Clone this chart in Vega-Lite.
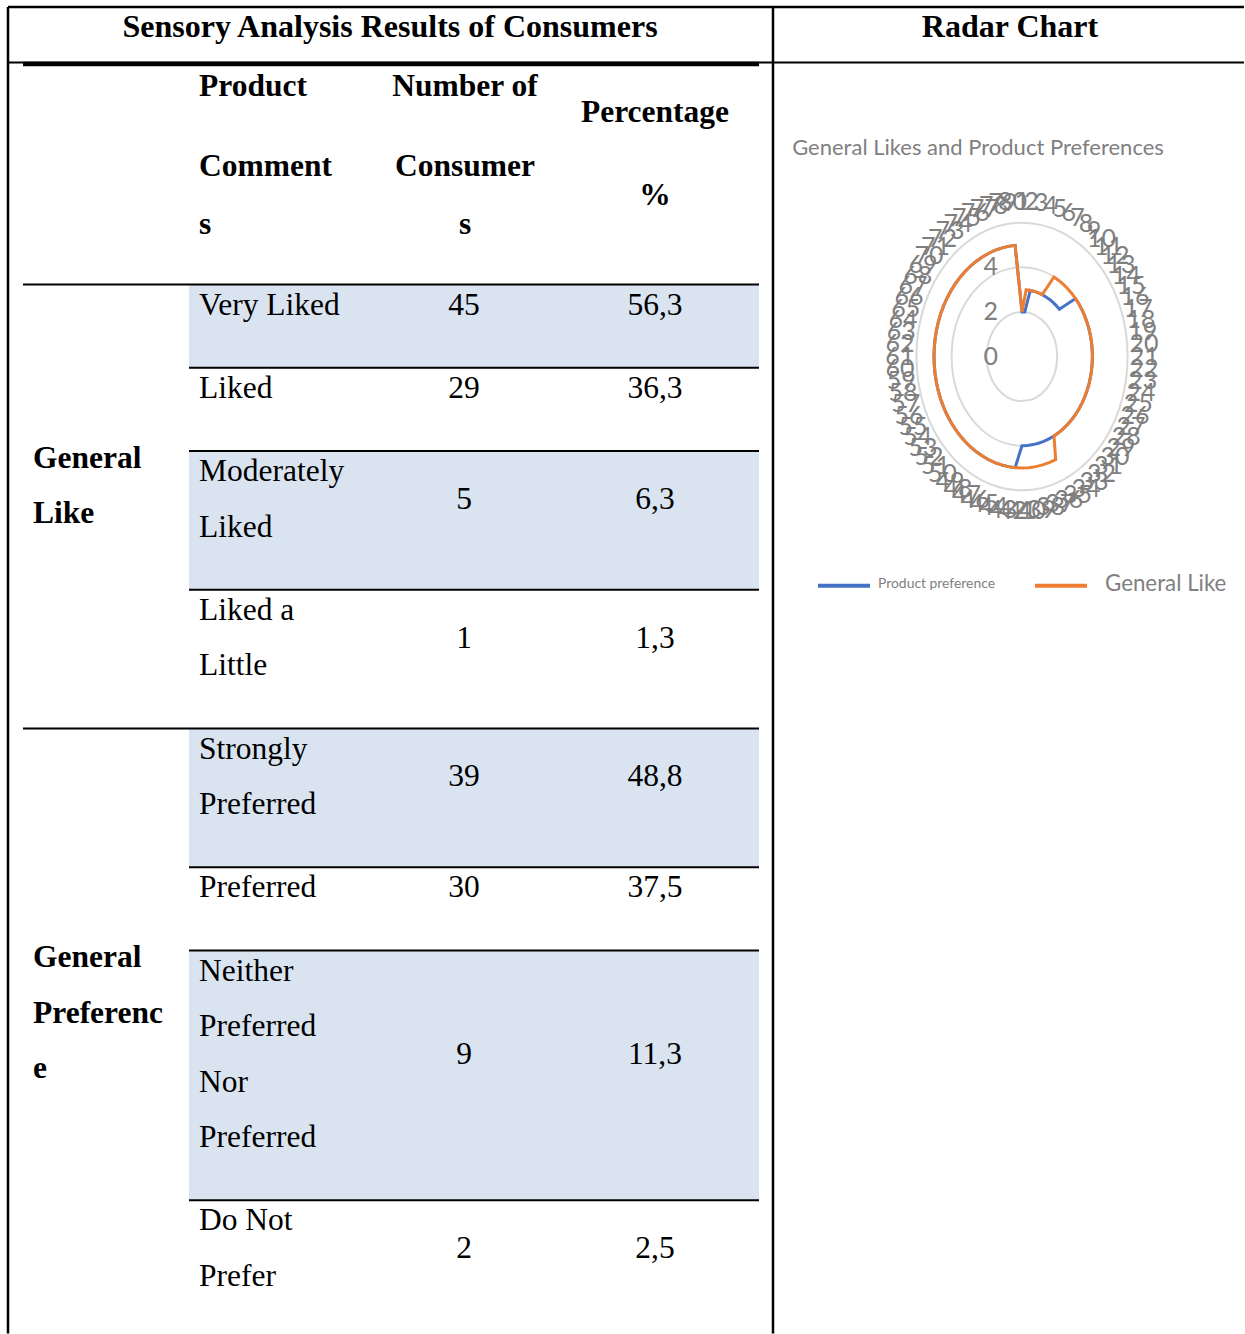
{
  "$schema": "https://vega.github.io/schema/vega-lite/v6.json",
  "width": 1245,
  "height": 1334,
  "autosize": {"type": "none"},
  "padding": 0,
  "background": "#ffffff",
  "config": {"view": {"stroke": null}},
  "datasets": {
    "table": [
      {"i": 1, "section": "General\nLike", "comment": "Very Liked", "n": 45, "pct": 56.3},
      {"i": 2, "section": "General\nLike", "comment": "Liked", "n": 29, "pct": 36.3},
      {"i": 3, "section": "General\nLike", "comment": "Moderately\nLiked", "n": 5, "pct": 6.3},
      {"i": 4, "section": "General\nLike", "comment": "Liked a\nLittle", "n": 1, "pct": 1.3},
      {"i": 5, "section": "General\nPreferenc\ne", "comment": "Strongly\nPreferred", "n": 39, "pct": 48.8},
      {"i": 6, "section": "General\nPreferenc\ne", "comment": "Preferred", "n": 30, "pct": 37.5},
      {"i": 7, "section": "General\nPreferenc\ne", "comment": "Neither\nPreferred\nNor\nPreferred", "n": 9, "pct": 11.3},
      {"i": 8, "section": "General\nPreferenc\ne", "comment": "Do Not\nPrefer", "n": 2, "pct": 2.5}
    ],
    "header": [
      {"col": "comment", "head": "Product", "rest": "Comment\ns"},
      {"col": "count", "head": "Number of", "rest": "Consumer\ns"},
      {"col": "pct", "head": "Percentage", "rest": "%"}
    ],
    "titles": [
      {"part": "table", "text": "Sensory Analysis Results of Consumers"},
      {"part": "radar", "text": "Radar Chart"}
    ],
    "chart": [{"title": "General Likes and Product Preferences"}],
    "legend": [
      {"series": "pref", "label": "Product preference"},
      {"series": "like", "label": "General Like"}
    ],
    "levels": [{"level": 0}, {"level": 2}, {"level": 4}, {"level": 6}],
    "radar": [
      {"c": 1, "like": 2, "pref": 2}, {"c": 2, "like": 3, "pref": 2}, {"c": 3, "like": 3, "pref": 3}, {"c": 4, "like": 3, "pref": 3},
      {"c": 5, "like": 3, "pref": 3}, {"c": 6, "like": 3, "pref": 3}, {"c": 7, "like": 4, "pref": 3}, {"c": 8, "like": 4, "pref": 3},
      {"c": 9, "like": 4, "pref": 3}, {"c": 10, "like": 4, "pref": 3}, {"c": 11, "like": 4, "pref": 3}, {"c": 12, "like": 4, "pref": 4},
      {"c": 13, "like": 4, "pref": 4}, {"c": 14, "like": 4, "pref": 4}, {"c": 15, "like": 4, "pref": 4}, {"c": 16, "like": 4, "pref": 4},
      {"c": 17, "like": 4, "pref": 4}, {"c": 18, "like": 4, "pref": 4}, {"c": 19, "like": 4, "pref": 4}, {"c": 20, "like": 4, "pref": 4},
      {"c": 21, "like": 4, "pref": 4}, {"c": 22, "like": 4, "pref": 4}, {"c": 23, "like": 4, "pref": 4}, {"c": 24, "like": 4, "pref": 4},
      {"c": 25, "like": 4, "pref": 4}, {"c": 26, "like": 4, "pref": 4}, {"c": 27, "like": 4, "pref": 4}, {"c": 28, "like": 4, "pref": 4},
      {"c": 29, "like": 4, "pref": 4}, {"c": 30, "like": 4, "pref": 4}, {"c": 31, "like": 4, "pref": 4}, {"c": 32, "like": 4, "pref": 4},
      {"c": 33, "like": 4, "pref": 4}, {"c": 34, "like": 4, "pref": 4}, {"c": 35, "like": 4, "pref": 4}, {"c": 36, "like": 5, "pref": 4},
      {"c": 37, "like": 5, "pref": 4}, {"c": 38, "like": 5, "pref": 4}, {"c": 39, "like": 5, "pref": 4}, {"c": 40, "like": 5, "pref": 4},
      {"c": 41, "like": 5, "pref": 4}, {"c": 42, "like": 5, "pref": 5}, {"c": 43, "like": 5, "pref": 5}, {"c": 44, "like": 5, "pref": 5},
      {"c": 45, "like": 5, "pref": 5}, {"c": 46, "like": 5, "pref": 5}, {"c": 47, "like": 5, "pref": 5}, {"c": 48, "like": 5, "pref": 5},
      {"c": 49, "like": 5, "pref": 5}, {"c": 50, "like": 5, "pref": 5}, {"c": 51, "like": 5, "pref": 5}, {"c": 52, "like": 5, "pref": 5},
      {"c": 53, "like": 5, "pref": 5}, {"c": 54, "like": 5, "pref": 5}, {"c": 55, "like": 5, "pref": 5}, {"c": 56, "like": 5, "pref": 5},
      {"c": 57, "like": 5, "pref": 5}, {"c": 58, "like": 5, "pref": 5}, {"c": 59, "like": 5, "pref": 5}, {"c": 60, "like": 5, "pref": 5},
      {"c": 61, "like": 5, "pref": 5}, {"c": 62, "like": 5, "pref": 5}, {"c": 63, "like": 5, "pref": 5}, {"c": 64, "like": 5, "pref": 5},
      {"c": 65, "like": 5, "pref": 5}, {"c": 66, "like": 5, "pref": 5}, {"c": 67, "like": 5, "pref": 5}, {"c": 68, "like": 5, "pref": 5},
      {"c": 69, "like": 5, "pref": 5}, {"c": 70, "like": 5, "pref": 5}, {"c": 71, "like": 5, "pref": 5}, {"c": 72, "like": 5, "pref": 5},
      {"c": 73, "like": 5, "pref": 5}, {"c": 74, "like": 5, "pref": 5}, {"c": 75, "like": 5, "pref": 5}, {"c": 76, "like": 5, "pref": 5},
      {"c": 77, "like": 5, "pref": 5}, {"c": 78, "like": 5, "pref": 5}, {"c": 79, "like": 5, "pref": 5}, {"c": 80, "like": 5, "pref": 5}
    ]
  },
  "layer": [
    {
      "layer": [
        {
          "data": {"values": [{}]},
          "mark": {"type": "rule", "color": "#000000", "strokeWidth": 2.5},
          "encoding": {
            "x": {"datum": 8, "type": "quantitative", "scale": {"domain": [0, 1245], "nice": false, "zero": false}, "axis": null},
            "x2": {"datum": 1244},
            "y": {"datum": 0, "type": "quantitative", "scale": {"domain": [-0.1261, 23.91], "reverse": true, "nice": false, "zero": false}, "axis": null}
          }
        },
        {
          "data": {"values": [{}]},
          "mark": {"type": "rule", "color": "#000000", "strokeWidth": 2},
          "encoding": {
            "x": {"datum": 8, "type": "quantitative", "scale": {"domain": [0, 1245], "nice": false, "zero": false}, "axis": null},
            "x2": {"datum": 1244},
            "y": {"datum": 1.0, "type": "quantitative", "scale": {"domain": [-0.1261, 23.91], "reverse": true, "nice": false, "zero": false}, "axis": null}
          }
        },
        {
          "data": {"values": [{}]},
          "mark": {"type": "rule", "color": "#000000", "strokeWidth": 4.5},
          "encoding": {
            "x": {"datum": 23, "type": "quantitative", "scale": {"domain": [0, 1245], "nice": false, "zero": false}, "axis": null},
            "x2": {"datum": 759},
            "y": {"datum": 1.027, "type": "quantitative", "scale": {"domain": [-0.1261, 23.91], "reverse": true, "nice": false, "zero": false}, "axis": null}
          }
        },
        {
          "data": {"values": [{}]},
          "mark": {"type": "rule", "color": "#000000", "strokeWidth": 2.5},
          "encoding": {
            "x": {"datum": 8, "type": "quantitative", "scale": {"domain": [0, 1245], "nice": false, "zero": false}, "axis": null},
            "y": {"datum": 0, "type": "quantitative", "scale": {"domain": [-0.1261, 23.91], "reverse": true, "nice": false, "zero": false}, "axis": null},
            "y2": {"datum": 23.9}
          }
        },
        {
          "data": {"values": [{}]},
          "mark": {"type": "rule", "color": "#000000", "strokeWidth": 2.5},
          "encoding": {
            "x": {"datum": 773, "type": "quantitative", "scale": {"domain": [0, 1245], "nice": false, "zero": false}, "axis": null},
            "y": {"datum": 0, "type": "quantitative", "scale": {"domain": [-0.1261, 23.91], "reverse": true, "nice": false, "zero": false}, "axis": null},
            "y2": {"datum": 23.9}
          }
        },
        {
          "data": {"name": "table"},
          "transform": [
            {"calculate": "length(split(datum.comment, '\\n'))", "as": "lines"},
            {"calculate": "datum.lines + 0.5", "as": "h"},
            {"window": [{"op": "sum", "field": "h", "as": "cum"}], "sort": [{"field": "i"}], "frame": [null, 0]},
            {"calculate": "5 + datum.cum", "as": "bottom"},
            {"calculate": "datum.bottom - datum.h", "as": "top"},
            {"window": [{"op": "row_number", "as": "k"}], "groupby": ["section"], "sort": [{"field": "i"}]},
            {"calculate": "datum.top + 0.38", "as": "yFirst"},
            {"calculate": "datum.top + 0.38 + (datum.lines - 1) / 2", "as": "yMid"},
            {"calculate": "replace(format(datum.pct, '.1f'), '.', ',')", "as": "pctText"}
          ],
          "layer": [
            {
              "transform": [{"filter": "datum.i % 2 == 1"}],
              "mark": {"type": "rect", "color": "#DAE3F0"},
              "encoding": {
                "x": {"datum": 189, "type": "quantitative", "scale": {"domain": [0, 1245], "nice": false, "zero": false}, "axis": null},
                "x2": {"datum": 759},
                "y": {"field": "top", "type": "quantitative", "scale": {"domain": [-0.1261, 23.91], "reverse": true, "nice": false, "zero": false}, "axis": null},
                "y2": {"field": "bottom"}
              }
            },
            {
              "transform": [{"filter": "datum.k == 1"}],
              "mark": {"type": "rule", "color": "#000000", "strokeWidth": 2},
              "encoding": {
                "x": {"datum": 23, "type": "quantitative", "scale": {"domain": [0, 1245], "nice": false, "zero": false}, "axis": null},
                "x2": {"datum": 759},
                "y": {"field": "top", "type": "quantitative", "scale": {"domain": [-0.1261, 23.91], "reverse": true, "nice": false, "zero": false}, "axis": null}
              }
            },
            {
              "transform": [{"filter": "datum.k > 1"}],
              "mark": {"type": "rule", "color": "#000000", "strokeWidth": 2},
              "encoding": {
                "x": {"datum": 189, "type": "quantitative", "scale": {"domain": [0, 1245], "nice": false, "zero": false}, "axis": null},
                "x2": {"datum": 759},
                "y": {"field": "top", "type": "quantitative", "scale": {"domain": [-0.1261, 23.91], "reverse": true, "nice": false, "zero": false}, "axis": null}
              }
            },
            {
              "mark": {"type": "text", "align": "left", "baseline": "middle", "font": "Liberation Serif", "fontSize": 31.5, "lineBreak": "\n", "lineHeight": 55.5, "color": "#000000"},
              "encoding": {
                "x": {"datum": 199, "type": "quantitative", "scale": {"domain": [0, 1245], "nice": false, "zero": false}, "axis": null},
                "y": {"field": "yFirst", "type": "quantitative", "scale": {"domain": [-0.1261, 23.91], "reverse": true, "nice": false, "zero": false}, "axis": null},
                "text": {"field": "comment", "type": "nominal"}
              }
            },
            {
              "mark": {"type": "text", "align": "center", "baseline": "middle", "font": "Liberation Serif", "fontSize": 31.5, "color": "#000000"},
              "encoding": {
                "x": {"datum": 464, "type": "quantitative", "scale": {"domain": [0, 1245], "nice": false, "zero": false}, "axis": null},
                "y": {"field": "yMid", "type": "quantitative", "scale": {"domain": [-0.1261, 23.91], "reverse": true, "nice": false, "zero": false}, "axis": null},
                "text": {"field": "n", "type": "quantitative"}
              }
            },
            {
              "mark": {"type": "text", "align": "center", "baseline": "middle", "font": "Liberation Serif", "fontSize": 31.5, "color": "#000000"},
              "encoding": {
                "x": {"datum": 655, "type": "quantitative", "scale": {"domain": [0, 1245], "nice": false, "zero": false}, "axis": null},
                "y": {"field": "yMid", "type": "quantitative", "scale": {"domain": [-0.1261, 23.91], "reverse": true, "nice": false, "zero": false}, "axis": null},
                "text": {"field": "pctText", "type": "nominal"}
              }
            },
            {
              "transform": [
                {"aggregate": [{"op": "min", "field": "top", "as": "sTop"}, {"op": "max", "field": "bottom", "as": "sBot"}], "groupby": ["section"]},
                {"calculate": "length(split(datum.section, '\\n'))", "as": "nl"},
                {"calculate": "(datum.sTop + datum.sBot) / 2 - 0.36 - (datum.nl - 1) / 2", "as": "ys"}
              ],
              "mark": {"type": "text", "align": "left", "baseline": "middle", "font": "Liberation Serif", "fontWeight": "bold", "fontSize": 31.5, "lineBreak": "\n", "lineHeight": 55.5, "color": "#000000"},
              "encoding": {
                "x": {"datum": 33, "type": "quantitative", "scale": {"domain": [0, 1245], "nice": false, "zero": false}, "axis": null},
                "y": {"field": "ys", "type": "quantitative", "scale": {"domain": [-0.1261, 23.91], "reverse": true, "nice": false, "zero": false}, "axis": null},
                "text": {"field": "section", "type": "nominal"}
              }
            }
          ]
        },
        {
          "data": {"name": "header"},
          "transform": [{"filter": "datum.col == 'comment'"}],
          "mark": {"type": "text", "align": "left", "baseline": "middle", "font": "Liberation Serif", "fontWeight": "bold", "fontSize": 31.5, "color": "#000000"},
          "encoding": {
            "x": {"datum": 199, "type": "quantitative", "scale": {"domain": [0, 1245], "nice": false, "zero": false}, "axis": null},
            "y": {"datum": 1.44, "type": "quantitative", "scale": {"domain": [-0.1261, 23.91], "reverse": true, "nice": false, "zero": false}, "axis": null},
            "text": {"field": "head", "type": "nominal"}
          }
        },
        {
          "data": {"name": "header"},
          "transform": [{"filter": "datum.col == 'comment'"}],
          "mark": {"type": "text", "align": "left", "baseline": "middle", "font": "Liberation Serif", "fontWeight": "bold", "fontSize": 31.5, "lineBreak": "\n", "lineHeight": 58, "color": "#000000"},
          "encoding": {
            "x": {"datum": 199, "type": "quantitative", "scale": {"domain": [0, 1245], "nice": false, "zero": false}, "axis": null},
            "y": {"datum": 2.88, "type": "quantitative", "scale": {"domain": [-0.1261, 23.91], "reverse": true, "nice": false, "zero": false}, "axis": null},
            "text": {"field": "rest", "type": "nominal"}
          }
        },
        {
          "data": {"name": "header"},
          "transform": [{"filter": "datum.col == 'count'"}],
          "mark": {"type": "text", "align": "center", "baseline": "middle", "font": "Liberation Serif", "fontWeight": "bold", "fontSize": 31.5, "color": "#000000"},
          "encoding": {
            "x": {"datum": 465, "type": "quantitative", "scale": {"domain": [0, 1245], "nice": false, "zero": false}, "axis": null},
            "y": {"datum": 1.44, "type": "quantitative", "scale": {"domain": [-0.1261, 23.91], "reverse": true, "nice": false, "zero": false}, "axis": null},
            "text": {"field": "head", "type": "nominal"}
          }
        },
        {
          "data": {"name": "header"},
          "transform": [{"filter": "datum.col == 'count'"}],
          "mark": {"type": "text", "align": "center", "baseline": "middle", "font": "Liberation Serif", "fontWeight": "bold", "fontSize": 31.5, "lineBreak": "\n", "lineHeight": 58, "color": "#000000"},
          "encoding": {
            "x": {"datum": 465, "type": "quantitative", "scale": {"domain": [0, 1245], "nice": false, "zero": false}, "axis": null},
            "y": {"datum": 2.88, "type": "quantitative", "scale": {"domain": [-0.1261, 23.91], "reverse": true, "nice": false, "zero": false}, "axis": null},
            "text": {"field": "rest", "type": "nominal"}
          }
        },
        {
          "data": {"name": "header"},
          "transform": [{"filter": "datum.col == 'pct'"}],
          "mark": {"type": "text", "align": "center", "baseline": "middle", "font": "Liberation Serif", "fontWeight": "bold", "fontSize": 31.5, "color": "#000000"},
          "encoding": {
            "x": {"datum": 655, "type": "quantitative", "scale": {"domain": [0, 1245], "nice": false, "zero": false}, "axis": null},
            "y": {"datum": 1.91, "type": "quantitative", "scale": {"domain": [-0.1261, 23.91], "reverse": true, "nice": false, "zero": false}, "axis": null},
            "text": {"field": "head", "type": "nominal"}
          }
        },
        {
          "data": {"name": "header"},
          "transform": [{"filter": "datum.col == 'pct'"}],
          "mark": {"type": "text", "align": "center", "baseline": "middle", "font": "Liberation Serif", "fontWeight": "bold", "fontSize": 31.5, "color": "#000000"},
          "encoding": {
            "x": {"datum": 655, "type": "quantitative", "scale": {"domain": [0, 1245], "nice": false, "zero": false}, "axis": null},
            "y": {"datum": 3.4, "type": "quantitative", "scale": {"domain": [-0.1261, 23.91], "reverse": true, "nice": false, "zero": false}, "axis": null},
            "text": {"field": "rest", "type": "nominal"}
          }
        },
        {
          "data": {"name": "titles"},
          "transform": [{"filter": "datum.part == 'table'"}],
          "mark": {"type": "text", "align": "center", "baseline": "middle", "font": "Liberation Serif", "fontWeight": "bold", "fontSize": 32, "color": "#000000"},
          "encoding": {
            "x": {"datum": 390, "type": "quantitative", "scale": {"domain": [0, 1245], "nice": false, "zero": false}, "axis": null},
            "y": {"datum": 0.36, "type": "quantitative", "scale": {"domain": [-0.1261, 23.91], "reverse": true, "nice": false, "zero": false}, "axis": null},
            "text": {"field": "text", "type": "nominal"}
          }
        },
        {
          "data": {"name": "titles"},
          "transform": [{"filter": "datum.part == 'radar'"}],
          "mark": {"type": "text", "align": "center", "baseline": "middle", "font": "Liberation Serif", "fontWeight": "bold", "fontSize": 32, "color": "#000000"},
          "encoding": {
            "x": {"datum": 1010, "type": "quantitative", "scale": {"domain": [0, 1245], "nice": false, "zero": false}, "axis": null},
            "y": {"datum": 0.36, "type": "quantitative", "scale": {"domain": [-0.1261, 23.91], "reverse": true, "nice": false, "zero": false}, "axis": null},
            "text": {"field": "text", "type": "nominal"}
          }
        },
        {
          "data": {"name": "chart"},
          "mark": {"type": "text", "align": "center", "baseline": "middle", "font": "Lato", "fontSize": 22, "color": "#808080"},
          "encoding": {
            "x": {"datum": 978, "type": "quantitative", "scale": {"domain": [0, 1245], "nice": false, "zero": false}, "axis": null},
            "y": {"datum": 2.54, "type": "quantitative", "scale": {"domain": [-0.1261, 23.91], "reverse": true, "nice": false, "zero": false}, "axis": null},
            "text": {"field": "title", "type": "nominal"}
          }
        },
        {
          "data": {"name": "legend"},
          "transform": [{"filter": "datum.series == 'pref'"}],
          "mark": {"type": "rule", "color": "#4472C4", "strokeWidth": 4},
          "encoding": {
            "x": {"datum": 818, "type": "quantitative", "scale": {"domain": [0, 1245], "nice": false, "zero": false}, "axis": null},
            "x2": {"datum": 870},
            "y": {"datum": 10.43, "type": "quantitative", "scale": {"domain": [-0.1261, 23.91], "reverse": true, "nice": false, "zero": false}, "axis": null}
          }
        },
        {
          "data": {"name": "legend"},
          "transform": [{"filter": "datum.series == 'pref'"}],
          "mark": {"type": "text", "align": "left", "baseline": "middle", "font": "Lato", "fontSize": 13.9, "color": "#808080"},
          "encoding": {
            "x": {"datum": 878, "type": "quantitative", "scale": {"domain": [0, 1245], "nice": false, "zero": false}, "axis": null},
            "y": {"datum": 10.4, "type": "quantitative", "scale": {"domain": [-0.1261, 23.91], "reverse": true, "nice": false, "zero": false}, "axis": null},
            "text": {"field": "label", "type": "nominal"}
          }
        },
        {
          "data": {"name": "legend"},
          "transform": [{"filter": "datum.series == 'like'"}],
          "mark": {"type": "rule", "color": "#ED7D31", "strokeWidth": 4},
          "encoding": {
            "x": {"datum": 1035, "type": "quantitative", "scale": {"domain": [0, 1245], "nice": false, "zero": false}, "axis": null},
            "x2": {"datum": 1087},
            "y": {"datum": 10.43, "type": "quantitative", "scale": {"domain": [-0.1261, 23.91], "reverse": true, "nice": false, "zero": false}, "axis": null}
          }
        },
        {
          "data": {"name": "legend"},
          "transform": [{"filter": "datum.series == 'like'"}],
          "mark": {"type": "text", "align": "left", "baseline": "middle", "font": "Lato", "fontSize": 22.3, "color": "#808080"},
          "encoding": {
            "x": {"datum": 1105, "type": "quantitative", "scale": {"domain": [0, 1245], "nice": false, "zero": false}, "axis": null},
            "y": {"datum": 10.4, "type": "quantitative", "scale": {"domain": [-0.1261, 23.91], "reverse": true, "nice": false, "zero": false}, "axis": null},
            "text": {"field": "label", "type": "nominal"}
          }
        }
      ]
    },
    {
      "layer": [
        {
          "data": {"name": "levels"},
          "transform": [{"filter": "datum.level > 0"}],
          "mark": {"type": "point", "shape": "M-1,0A1,1.267,0,1,0,1,0A1,1.267,0,1,0,-1,0Z", "filled": false, "color": "#D9D9D9", "strokeWidth": 2, "opacity": 1},
          "encoding": {
            "x": {"datum": 0, "type": "quantitative", "scale": {"domain": [-6, 6], "range": [916.4, 1127.6], "nice": false, "zero": false}, "axis": null},
            "y": {"datum": 0, "type": "quantitative", "scale": {"domain": [-6, 6], "range": [490.3, 222.7], "nice": false, "zero": false}, "axis": null},
            "size": {"field": "level", "type": "quantitative", "scale": {"type": "pow", "exponent": 2, "domain": [0, 6], "range": [0, 44605]}, "legend": null}
          }
        },
        {
          "data": {"name": "levels"},
          "transform": [{"filter": "datum.level < 6"}],
          "mark": {"type": "text", "align": "right", "baseline": "middle", "dx": -24, "font": "Lato", "fontSize": 25, "color": "#808080"},
          "encoding": {
            "x": {"datum": 0, "type": "quantitative", "scale": {"domain": [-6, 6], "range": [916.4, 1127.6], "nice": false, "zero": false}, "axis": null},
            "y": {"field": "level", "type": "quantitative", "scale": {"domain": [-6, 6], "range": [490.3, 222.7], "nice": false, "zero": false}, "axis": null},
            "text": {"field": "level", "type": "quantitative"}
          }
        },
        {
          "data": {"name": "radar"},
          "transform": [
            {"calculate": "(datum.c - 1) * 2 * PI / 80", "as": "a"},
            {"calculate": "6.95 * sin(datum.a)", "as": "lx"},
            {"calculate": "6.95 * cos(datum.a)", "as": "ly"}
          ],
          "mark": {"type": "text", "align": "center", "baseline": "middle", "font": "Lato", "fontSize": 25, "color": "#7F7F7F"},
          "encoding": {
            "x": {"field": "lx", "type": "quantitative", "scale": {"domain": [-6, 6], "range": [916.4, 1127.6], "nice": false, "zero": false}, "axis": null},
            "y": {"field": "ly", "type": "quantitative", "scale": {"domain": [-6, 6], "range": [490.3, 222.7], "nice": false, "zero": false}, "axis": null},
            "text": {"field": "c", "type": "quantitative"}
          }
        },
        {
          "data": {"name": "radar"},
          "transform": [
            {"calculate": "(datum.c - 1) * 2 * PI / 80", "as": "a"},
            {"calculate": "datum.pref * sin(datum.a)", "as": "px"},
            {"calculate": "datum.pref * cos(datum.a)", "as": "py"}
          ],
          "mark": {"type": "line", "color": "#4472C4", "strokeWidth": 3, "interpolate": "linear-closed"},
          "encoding": {
            "x": {"field": "px", "type": "quantitative", "scale": {"domain": [-6, 6], "range": [916.4, 1127.6], "nice": false, "zero": false}, "axis": null},
            "y": {"field": "py", "type": "quantitative", "scale": {"domain": [-6, 6], "range": [490.3, 222.7], "nice": false, "zero": false}, "axis": null},
            "order": {"field": "c", "type": "quantitative"}
          }
        },
        {
          "data": {"name": "radar"},
          "transform": [
            {"calculate": "(datum.c - 1) * 2 * PI / 80", "as": "a"},
            {"calculate": "datum.like * sin(datum.a)", "as": "px"},
            {"calculate": "datum.like * cos(datum.a)", "as": "py"}
          ],
          "mark": {"type": "line", "color": "#ED7D31", "strokeWidth": 3, "interpolate": "linear-closed"},
          "encoding": {
            "x": {"field": "px", "type": "quantitative", "scale": {"domain": [-6, 6], "range": [916.4, 1127.6], "nice": false, "zero": false}, "axis": null},
            "y": {"field": "py", "type": "quantitative", "scale": {"domain": [-6, 6], "range": [490.3, 222.7], "nice": false, "zero": false}, "axis": null},
            "order": {"field": "c", "type": "quantitative"}
          }
        }
      ]
    }
  ],
  "resolve": {"scale": {"x": "independent", "y": "independent"}}
}
